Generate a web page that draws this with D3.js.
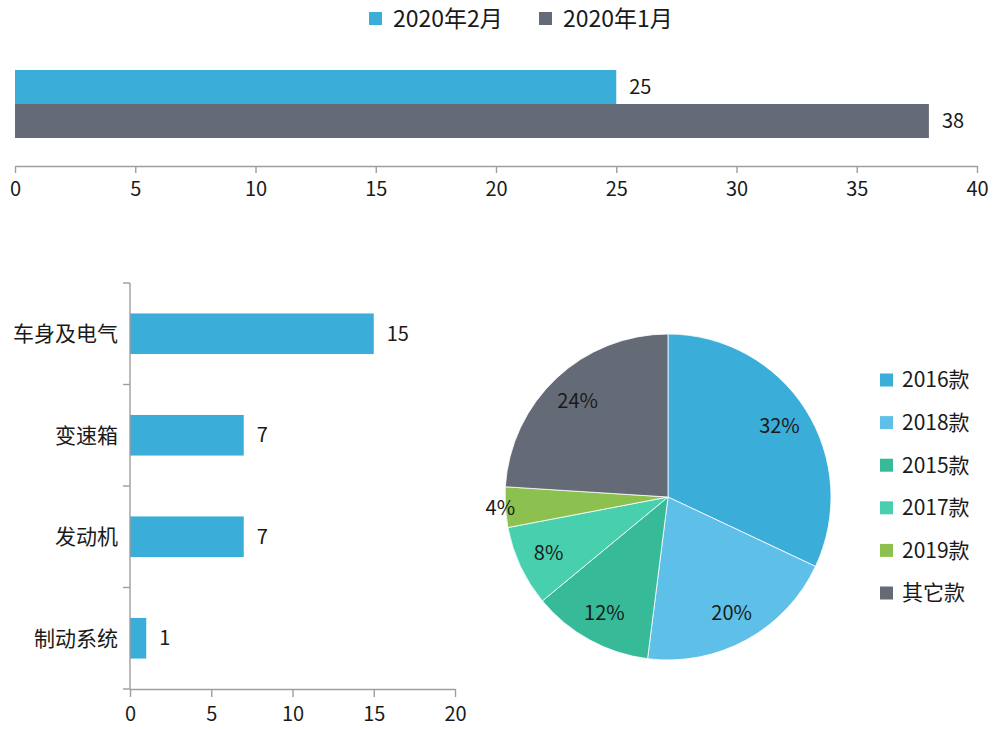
<!DOCTYPE html>
<html>
<head>
<meta charset="utf-8">
<script src="https://cdn.jsdelivr.net/npm/d3@7"></script>
<style>
  body { margin: 0; background: #fff; }
  text { font-family: "Noto Sans CJK SC", "Noto Sans", sans-serif; fill: #1a1a1a; }
</style>
</head>
<body>
<svg width="995" height="729"></svg>
<script>
// data
const months = ['2020年2月', '2020年1月'];
const monthValues = [25, 38];
const monthColors = ['#3badd9', '#646b77'];
const topTicks = [0, 5, 10, 15, 20, 25, 30, 35, 40];

const parts = ['车身及电气', '变速箱', '发动机', '制动系统'];
const partValues = [15, 7, 7, 1];
const partTicks = [0, 5, 10, 15, 20];

const models = ['2016款', '2018款', '2015款', '2017款', '2019款', '其它款'];
const modelShares = [32, 20, 12, 8, 4, 24];
const modelColors = ['#3badd9', '#5ec0e8', '#36ba98', '#48d0ae', '#8dc14f', '#646b77'];

const svg = d3.select('svg');
const axisColor = '#9e9e9e';

// ---- legend on top
const legend = svg.append('g');
months.forEach((m, i) => {
    const lx = 369 + i * 170;
    legend.append('rect')
        .attr('x', lx).attr('y', 12)
        .attr('width', 13).attr('height', 13)
        .attr('fill', monthColors[i]);
    legend.append('text')
        .attr('x', lx + 24).attr('y', 19)
        .attr('dy', '0.35em')
        .style('font-size', '23px')
        .text(m);
});

// ---- top bar chart
const x1 = d3.scaleLinear().domain([0, 40]).range([15, 977]);
const y1 = d3.scaleBand().domain(months).range([70, 138]);

const topChart = svg.append('g');
topChart.selectAll('rect.bar')
    .data(months)
    .join('rect')
    .attr('class', 'bar')
    .attr('x', x1(0))
    .attr('y', d => y1(d))
    .attr('width', (d, i) => x1(monthValues[i]) - x1(0))
    .attr('height', y1.bandwidth())
    .attr('fill', (d, i) => monthColors[i]);

topChart.selectAll('text.val')
    .data(months)
    .join('text')
    .attr('class', 'val')
    .attr('x', (d, i) => x1(monthValues[i]) + 13)
    .attr('y', d => y1(d) + y1.bandwidth() / 2)
    .attr('dy', '0.35em')
    .style('font-size', '20px')
    .text((d, i) => monthValues[i]);

const xAxis1 = svg.append('g')
    .attr('transform', 'translate(0,166)')
    .call(d3.axisBottom(x1).tickValues(topTicks).tickSize(7).tickSizeOuter(0).tickPadding(9));

// ---- bottom bar chart
const x2 = d3.scaleLinear().domain([0, 20]).range([130, 455]);
const y2 = d3.scaleBand().domain(parts).range([283, 689]).paddingInner(0.6).paddingOuter(0.3);

const bars = svg.append('g');
bars.selectAll('rect')
    .data(parts)
    .join('rect')
    .attr('x', x2(0))
    .attr('y', d => y2(d))
    .attr('width', (d, i) => x2(partValues[i]) - x2(0))
    .attr('height', y2.bandwidth())
    .attr('fill', monthColors[0]);

bars.selectAll('text.val')
    .data(parts)
    .join('text')
    .attr('class', 'val')
    .attr('x', (d, i) => x2(partValues[i]) + 13)
    .attr('y', d => y2(d) + y2.bandwidth() / 2)
    .attr('dy', '0.35em')
    .style('font-size', '20px')
    .text((d, i) => partValues[i]);

bars.selectAll('text.cat')
    .data(parts)
    .join('text')
    .attr('class', 'cat')
    .attr('x', x2(0) - 12)
    .attr('y', d => y2(d) + y2.bandwidth() / 2)
    .attr('dy', '0.35em')
    .attr('text-anchor', 'end')
    .style('font-size', '21px')
    .text(d => d);

// category axis: line + ticks on band edges
const [yTop, yBot] = y2.range();
const yAxis2 = svg.append('g');
yAxis2.append('line')
    .attr('x1', x2(0)).attr('x2', x2(0))
    .attr('y1', yTop).attr('y2', yBot)
    .attr('stroke', axisColor)
    .attr('stroke-width', 1.4);
yAxis2.selectAll('line.tick')
    .data(d3.range(parts.length + 1))
    .join('line')
    .attr('class', 'tick')
    .attr('x1', x2(0) - 7).attr('x2', x2(0))
    .attr('y1', i => yTop + i * y2.step())
    .attr('y2', i => yTop + i * y2.step())
    .attr('stroke', axisColor)
    .attr('stroke-width', 1.4);

const xAxis2 = svg.append('g')
    .attr('transform', `translate(0,${yBot})`)
    .call(d3.axisBottom(x2).tickValues(partTicks).tickSize(8).tickSizeOuter(0).tickPadding(10));

[xAxis1, xAxis2].forEach(a => {
    a.select('.domain').attr('stroke', axisColor).attr('stroke-width', 1.4);
    a.selectAll('.tick line').attr('stroke', axisColor).attr('stroke-width', 1.4);
    a.selectAll('.tick text')
        .style('font-size', '20px')
        .style('font-family', '"Noto Sans CJK SC", sans-serif')
        .attr('fill', '#1a1a1a');
});

// ---- pie
const radius = 163;
const pieG = svg.append('g').attr('transform', 'translate(668,497)');
const pie = d3.pie().sort(null).value(d => d);
const arcs = pie(modelShares);
const arc = d3.arc().innerRadius(0).outerRadius(radius);
const labelArc = d3.arc().innerRadius(132).outerRadius(132);
const edgeArc = d3.arc().innerRadius(168).outerRadius(168);

pieG.selectAll('path')
    .data(arcs)
    .join('path')
    .attr('d', arc)
    .attr('fill', (d, i) => modelColors[i])
    .attr('stroke', '#fff')
    .attr('stroke-width', 0.8);

pieG.selectAll('text')
    .data(arcs)
    .join('text')
    .attr('transform', d => `translate(${(d.data < 5 ? edgeArc : labelArc).centroid(d)})`)
    .attr('text-anchor', 'middle')
    .attr('dy', '0.35em')
    .style('font-size', '20px')
    .text(d => d.data + '%');

// pie legend
const pieLegend = svg.append('g');
models.forEach((m, i) => {
    const ly = 380 + i * 42.6;
    pieLegend.append('rect')
        .attr('x', 880).attr('y', ly - 6.5)
        .attr('width', 13).attr('height', 13)
        .attr('fill', modelColors[i]);
    pieLegend.append('text')
        .attr('x', 902).attr('y', ly)
        .attr('dy', '0.35em')
        .style('font-size', '21px')
        .text(m);
});
</script>
</body>
</html>
